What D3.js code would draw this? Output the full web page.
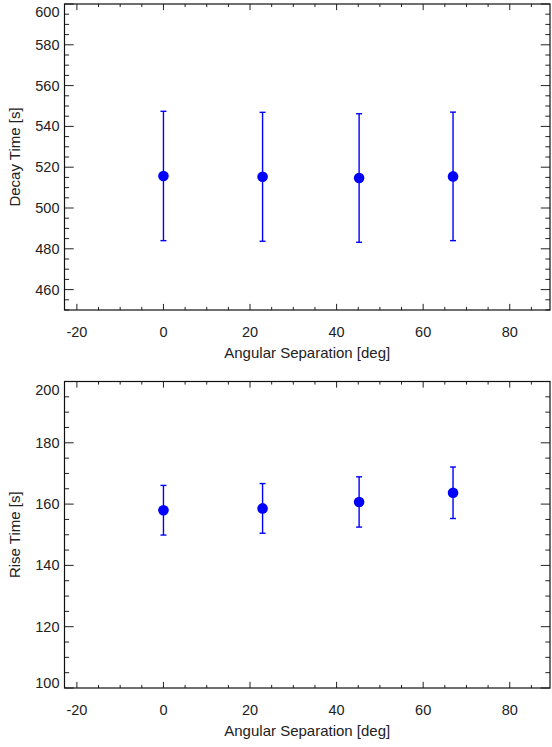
<!DOCTYPE html>
<html><head><meta charset="utf-8">
<script src="https://cdn.jsdelivr.net/npm/d3@7"></script>
<style>body{margin:0;background:#fff}svg{display:block}text{font-family:"Liberation Sans",Arial,sans-serif;fill:#222}</style>
</head><body>
<script>
const angles = [0, 22.9, 45.2, 66.9];
const decayTime = [515.7, 515.3, 514.7, 515.5];
const decayErr = [31.7, 31.6, 31.5, 31.5];
const riseTime = [158.0, 158.6, 160.7, 163.7];
const riseErr = [8.1, 8.1, 8.2, 8.4];
const xTicks = [-20, 0, 20, 40, 60, 80];
const decayTicks = [460, 480, 500, 520, 540, 560, 580, 600];
const riseTicks = [100, 120, 140, 160, 180, 200];

const W = 552, H = 747;
const svg = d3.select("body").append("svg").attr("width", W).attr("height", H);

function panel(cfg) {
  const {top, bottom, left, right, ydom, yticks, ylab, vals, errs} = cfg;
  const x = d3.scaleLinear().domain([-22.86, 89.3]).range([left, right]);
  const y = d3.scaleLinear().domain(ydom).range([bottom, top]);
  const g = svg.append("g");
  const ph = bottom - top, pw = right - left;
  const xl = ph * 0.02, yl = pw * 0.019;
  const xMinor = d3.range(-20, 90, 5);
  const yMinor = d3.range(ydom[0], ydom[1] + 0.01, 5);
  const col = "#222";
  xMinor.forEach(v => {
    const major = v % 20 === 0;
    const L = major ? xl : xl / 2;
    g.append("line").attr("x1", x(v)).attr("x2", x(v)).attr("y1", bottom).attr("y2", bottom - L).attr("stroke", col);
    g.append("line").attr("x1", x(v)).attr("x2", x(v)).attr("y1", top).attr("y2", top + L).attr("stroke", col);
  });
  yMinor.forEach(v => {
    const major = v % 20 === 0;
    const L = major ? yl : yl / 2;
    g.append("line").attr("y1", y(v)).attr("y2", y(v)).attr("x1", left).attr("x2", left + L).attr("stroke", col);
    g.append("line").attr("y1", y(v)).attr("y2", y(v)).attr("x1", right).attr("x2", right - L).attr("stroke", col);
  });
  g.append("rect").attr("x", left).attr("y", top).attr("width", pw).attr("height", ph)
    .attr("fill", "none").attr("stroke", "#111").attr("stroke-width", 1.2);
  g.selectAll(".xl").data(xTicks).enter().append("text")
    .attr("x", d => x(d)).attr("y", bottom + 27).attr("text-anchor", "middle")
    .attr("font-size", 14.5).text(d => d);
  g.selectAll(".yl").data(yticks).enter().append("text")
    .attr("x", left - 5).attr("y", d => Math.min(Math.max(y(d), top + 8), bottom - 5) + 5).attr("text-anchor", "end")
    .attr("font-size", 14.5).text(d => d);
  g.append("text").attr("x", (left + right) / 2).attr("y", bottom + 48).attr("text-anchor", "middle")
    .attr("font-size", 15).text("Angular Separation [deg]");
  g.append("text").attr("transform", `translate(20,${(top + bottom) / 2}) rotate(-90)`)
    .attr("text-anchor", "middle").attr("font-size", 15).text(ylab);
  const pts = angles.map((a, i) => ({a, v: vals[i], e: errs[i]}));
  const blue = "#0000ff";
  pts.forEach(p => {
    g.append("line").attr("x1", x(p.a)).attr("x2", x(p.a)).attr("y1", y(p.v - p.e)).attr("y2", y(p.v + p.e))
      .attr("stroke", blue).attr("stroke-width", 1.4);
    [p.v - p.e, p.v + p.e].forEach(yy => {
      g.append("line").attr("x1", x(p.a) - 3).attr("x2", x(p.a) + 3).attr("y1", y(yy)).attr("y2", y(yy))
        .attr("stroke", blue).attr("stroke-width", 1.4);
    });
    g.append("circle").attr("cx", x(p.a)).attr("cy", y(p.v)).attr("r", 5.3).attr("fill", blue);
  });
}

panel({top: 4, bottom: 310, left: 64.5, right: 550, ydom: [450, 600], yticks: decayTicks,
  ylab: "Decay Time [s]", vals: decayTime, errs: decayErr});
panel({top: 381.5, bottom: 688, left: 64.5, right: 550, ydom: [100, 200], yticks: riseTicks,
  ylab: "Rise Time [s]", vals: riseTime, errs: riseErr});
</script>
</body></html>
